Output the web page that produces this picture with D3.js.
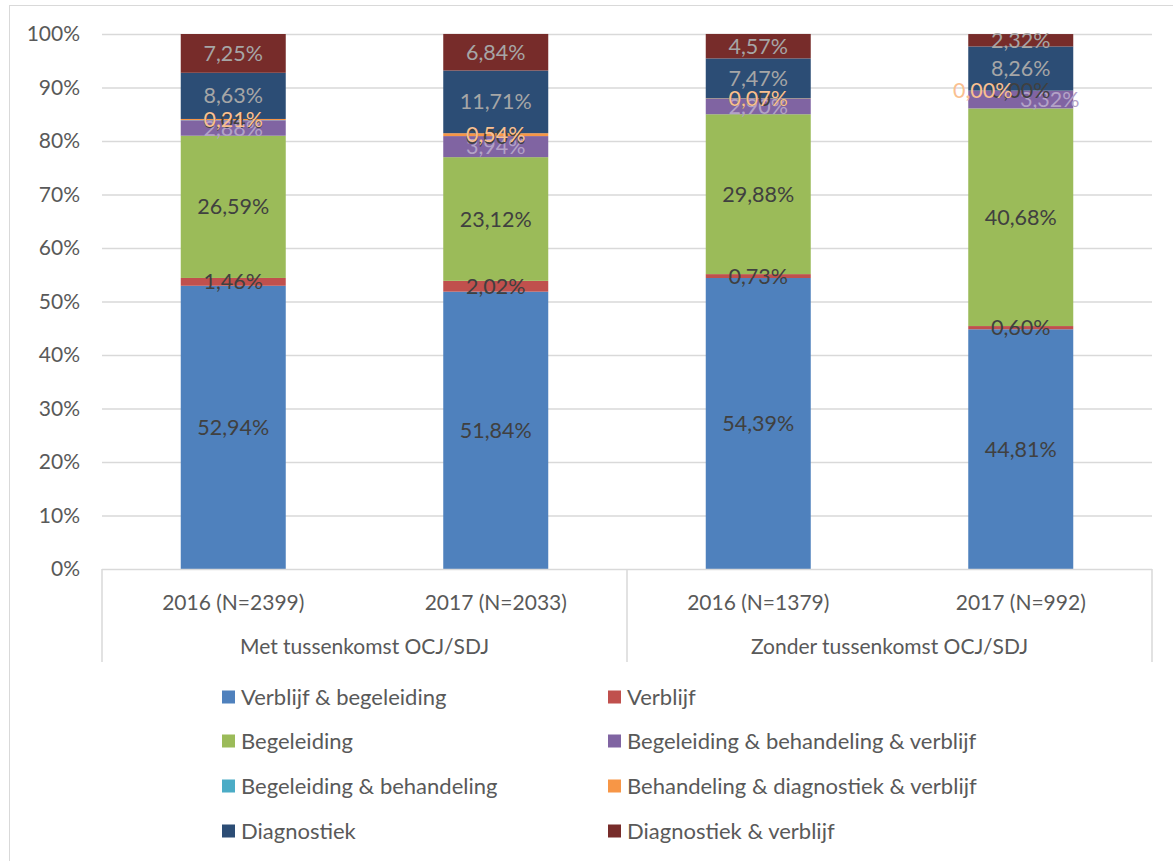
<!DOCTYPE html>
<html>
<head>
<meta charset="utf-8">
<script src="https://cdn.jsdelivr.net/npm/d3@7"></script>
<style>
  body { margin: 0; background: #fff; }
  text { font-family: Lato, "Open Sans", sans-serif; }
</style>
</head>
<body>
<svg id="chart" width="1173" height="861"></svg>
<script>
// categories (bars) and their groups
const categories = ['2016 (N=2399)', '2017 (N=2033)', '2016 (N=1379)', '2017 (N=992)'];
const groups = ['Met tussenkomst OCJ/SDJ', 'Zonder tussenkomst OCJ/SDJ'];
const yTicks = [0, 10, 20, 30, 40, 50, 60, 70, 80, 90, 100];

// series, bottom to top of the stack
const series = [
  'Verblijf & begeleiding',
  'Verblijf',
  'Begeleiding',
  'Begeleiding & behandeling & verblijf',
  'Begeleiding & behandeling',
  'Behandeling & diagnostiek & verblijf',
  'Diagnostiek',
  'Diagnostiek & verblijf'
];
const verblijfBegeleiding = [52.94, 51.84, 54.39, 44.81];
const verblijf = [1.46, 2.02, 0.73, 0.60];
const begeleiding = [26.59, 23.12, 29.88, 40.68];
const begBehVerblijf = [2.88, 3.94, 2.90, 3.32];
const begBehandeling = [0.04, 0.00, 0.00, 0.00];
const behDiagVerblijf = [0.21, 0.54, 0.07, 0.00];
const diagnostiek = [8.63, 11.71, 7.47, 8.26];
const diagVerblijf = [7.25, 6.84, 4.57, 2.32];
const values = [verblijfBegeleiding, verblijf, begeleiding, begBehVerblijf,
                begBehandeling, behDiagVerblijf, diagnostiek, diagVerblijf];

const colors = ['#4f81bd', '#c0504d', '#9bbb59', '#8064a2', '#4bacc6', '#f79646', '#2c4d75', '#772c2a'];
const labelColors = ['#404040', '#404040', '#404040', '#b3a2c7', '#404040', '#fac090', '#a6a6a6', '#a6a6a6'];
// manually moved labels: [series, bar, dx]
const labelNudges = [[3, 3, 29], [5, 3, -38]];

const fontSize = 21;
const svg = d3.select('#chart');
const margin = { left: 102, right: 1152, top: 34, bottom: 569 };

svg.append('rect')
  .attr('x', 9.5).attr('y', 5.5)
  .attr('width', 1180).attr('height', 880)
  .attr('fill', 'none').attr('stroke', '#d9d9d9');

const x = d3.scaleBand().domain(categories).range([margin.left, margin.right]).paddingInner(0.6).paddingOuter(0.3);
const y = d3.scaleLinear().domain([0, 100]).range([margin.bottom, margin.top]);

// gridlines
svg.append('g').selectAll('line').data(yTicks.slice(1)).join('line')
  .attr('x1', margin.left).attr('x2', margin.right)
  .attr('y1', d => y(d) + 0.5).attr('y2', d => y(d) + 0.5)
  .attr('stroke', '#d9d9d9').attr('stroke-width', 1.5);

// y labels
svg.append('g').selectAll('text').data(yTicks).join('text')
  .attr('x', 80).attr('y', d => y(d))
  .attr('dy', '0.35em').attr('text-anchor', 'end')
  .attr('font-size', fontSize).attr('fill', '#595959')
  .text(d => d + '%');

// stack
const rows = categories.map((c, i) => {
  const r = { cat: c };
  series.forEach((s, k) => r[s] = values[k][i]);
  return r;
});
const stacked = d3.stack().keys(series)(rows);

svg.append('g').selectAll('g').data(stacked).join('g')
  .attr('fill', (d, k) => colors[k])
  .selectAll('rect').data(d => d).join('rect')
  .attr('x', d => x(d.data.cat))
  .attr('width', x.bandwidth())
  .attr('y', d => y(d[1]))
  .attr('height', d => y(d[0]) - y(d[1]));

// x axis box
const axisBottom = 662;
svg.append('line').attr('x1', margin.left).attr('x2', margin.right)
  .attr('y1', margin.bottom + 0.5).attr('y2', margin.bottom + 0.5)
  .attr('stroke', '#d9d9d9').attr('stroke-width', 1.5);
const groupW = (margin.right - margin.left) / groups.length;
svg.append('g').selectAll('line').data(d3.range(groups.length + 1)).join('line')
  .attr('x1', d => margin.left + d * groupW).attr('x2', d => margin.left + d * groupW)
  .attr('y1', margin.bottom).attr('y2', axisBottom)
  .attr('stroke', '#d9d9d9').attr('stroke-width', 1.5);

svg.append('g').selectAll('text').data(categories).join('text')
  .attr('x', d => x(d) + x.bandwidth() / 2).attr('y', 603)
  .attr('dy', '0.35em').attr('text-anchor', 'middle')
  .attr('font-size', fontSize).attr('fill', '#595959')
  .text(d => d);

svg.append('g').selectAll('text').data(groups).join('text')
  .attr('x', (d, i) => margin.left + (i + 0.5) * groupW).attr('y', 647)
  .attr('dy', '0.35em').attr('text-anchor', 'middle')
  .attr('font-size', fontSize).attr('fill', '#595959')
  .text(d => d);

// data labels
const fmt = v => v.toFixed(2).replace('.', ',') + '%';
const labels = svg.append('g');
stacked.forEach((layer, k) => {
  labels.selectAll(null).data(layer).join('text')
    .attr('x', (d, i) => {
      const n = labelNudges.find(a => a[0] === k && a[1] === i);
      return x(d.data.cat) + x.bandwidth() / 2 + (n ? n[2] : 0);
    })
    .attr('y', d => y((d[0] + d[1]) / 2))
    .attr('dy', '0.35em').attr('text-anchor', 'middle')
    .attr('font-size', fontSize + 0.5).attr('fill', labelColors[k])
    .text((d, i) => fmt(values[k][i]));
});

// legend
const legendCols = [222, 608];
const legendRows = [697, 741, 786, 831];
const legend = svg.append('g').selectAll('g').data(series).join('g')
  .attr('transform', (d, k) => `translate(${legendCols[k % 2]},${legendRows[Math.floor(k / 2)]})`);
legend.append('rect').attr('x', 0).attr('y', -6.5).attr('width', 13).attr('height', 13)
  .attr('fill', (d, k) => colors[k]);
legend.append('text').attr('x', 19).attr('dy', '0.35em')
  .attr('font-size', 22).attr('fill', '#595959')
  .text(d => d);
</script>
</body>
</html>
